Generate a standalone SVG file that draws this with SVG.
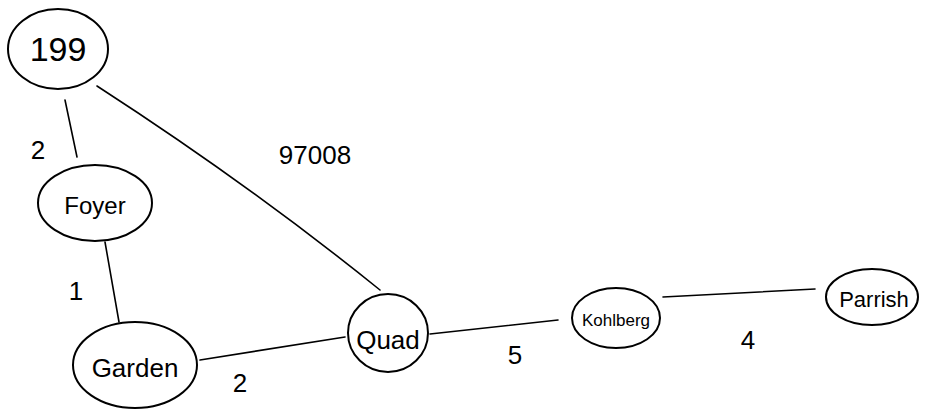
<svg xmlns="http://www.w3.org/2000/svg" width="927" height="417" viewBox="0 0 927 417">
<style>
.n{fill:none;stroke:#000;stroke-width:2}
.e{stroke:#000;stroke-width:1.6;fill:none;stroke-linecap:round}
.t{font-family:"Liberation Sans",Arial,sans-serif;font-size:20px;text-anchor:middle;dominant-baseline:central;fill:#000}
.w{font-family:"Liberation Sans",Arial,sans-serif;font-size:26px;text-anchor:middle;dominant-baseline:central;fill:#000}
</style>
<rect width="927" height="417" fill="#fff"/>
<g id="edges">
<path class="e" d="M65 100 L77 157"/>
<path class="e" d="M97 86 Q250 185 380 290"/>
<path class="e" d="M105 242 L119 322"/>
<path class="e" d="M200 360 L345 337"/>
<path class="e" d="M430 334 L558 320"/>
<path class="e" d="M663 297 L815 289"/>
<text class="w" x="38" y="150">2</text>
<text class="w" x="315" y="155">97008</text>
<text class="w" x="76" y="291">1</text>
<text class="w" x="240" y="383">2</text>
<text class="w" x="515" y="355">5</text>
<text class="w" x="748" y="340">4</text>
</g>
<g id="n199"><ellipse class="n" cx="58" cy="49" rx="50" ry="40"/><text class="t" x="58" y="49" style="font-size:34px">199</text></g>
<g id="nFoyer"><ellipse class="n" cx="95" cy="203" rx="57" ry="38"/><text class="t" x="95" y="205" style="font-size:24px">Foyer</text></g>
<g id="nGarden"><ellipse class="n" cx="135" cy="365" rx="62" ry="43"/><text class="t" x="135" y="368" style="font-size:26px">Garden</text></g>
<g id="nQuad"><ellipse class="n" cx="388" cy="333" rx="40" ry="39"/><text class="t" x="388" y="340" style="font-size:26px">Quad</text></g>
<g id="nKohlberg"><ellipse class="n" cx="616" cy="318" rx="44" ry="30"/><text class="t" x="616" y="320" style="font-size:17px">Kohlberg</text></g>
<g id="nParrish"><ellipse class="n" cx="872" cy="297" rx="46" ry="28"/><text class="t" x="874" y="299" style="font-size:22px">Parrish</text></g>
</svg>
